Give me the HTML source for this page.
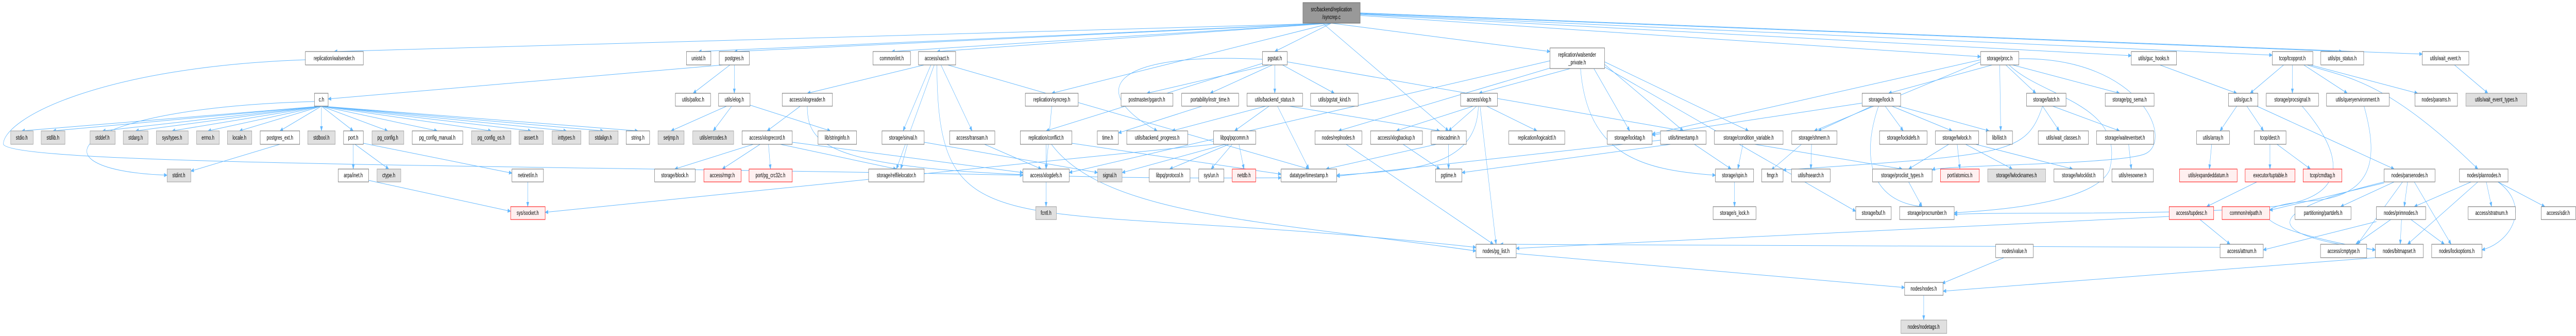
<!DOCTYPE html>
<html><head><meta charset="utf-8">
<style>
html,body{margin:0;padding:0;background:#fff;width:100%;height:100%;overflow:hidden;}
svg{display:block;width:100vw;height:100vh;}
text{font-family:"Liberation Sans",sans-serif;font-size:12px;fill:#000;text-anchor:middle;}
.w{fill:#fff;stroke:#666;stroke-width:1;}
.g{fill:#e0e0e0;stroke:#999;stroke-width:1;}
.r{fill:#fff0f0;stroke:#f00;stroke-width:1;}
.k{fill:#999;stroke:#666;stroke-width:1;}
.e line,.e path{stroke:#63b8ff;stroke-width:1;fill:none;marker-end:url(#a);}
</style></head>
<body>
<svg viewBox="0 0 7693 652" preserveAspectRatio="none" xmlns="http://www.w3.org/2000/svg" overflow="hidden">
<defs><marker id="a" markerUnits="userSpaceOnUse" markerWidth="10" markerHeight="8" refX="9" refY="4" orient="auto"><path d="M0,0 L10,4 L0,8 z" fill="#63b8ff"/></marker></defs>
<g class="e">
<line x1="3976" y1="45" x2="998" y2="100"/><line x1="3976" y1="45" x2="2086" y2="100"/><line x1="3976" y1="45" x2="2193" y2="100"/>
<line x1="3976" y1="45" x2="2663" y2="100"/><line x1="3976" y1="45" x2="2798" y2="100"/><line x1="3976" y1="45" x2="3807" y2="100"/>
<line x1="3976" y1="45" x2="4629" y2="100"/><line x1="4062" y1="30" x2="5915" y2="110"/><line x1="4062" y1="28" x2="6365" y2="108"/>
<line x1="4062" y1="27" x2="6786" y2="107"/><line x1="4062" y1="26" x2="6995" y2="100"/><line x1="4062" y1="25" x2="7234" y2="105"/>
<line x1="3976" y1="45" x2="3141" y2="181"/><line x1="3950" y1="45" x2="4326" y2="254"/>
<path d="M912,116 C300,130 10,230 10,280 C40,320 1500,320 3055,340"/>
<line x1="960" y1="206" x2="65" y2="254"/><line x1="960" y1="206" x2="158" y2="254"/><line x1="960" y1="206" x2="306" y2="254"/>
<line x1="960" y1="206" x2="405" y2="254"/><line x1="960" y1="206" x2="514" y2="254"/><line x1="960" y1="206" x2="621" y2="254"/>
<line x1="960" y1="206" x2="715" y2="254"/><line x1="960" y1="206" x2="836" y2="254"/><line x1="960" y1="206" x2="960" y2="254"/>
<line x1="960" y1="206" x2="1055" y2="254"/><line x1="960" y1="206" x2="1158" y2="254"/><line x1="960" y1="206" x2="1306" y2="254"/>
<line x1="960" y1="206" x2="1467" y2="254"/><line x1="960" y1="206" x2="1586" y2="254"/><line x1="960" y1="206" x2="1692" y2="254"/>
<line x1="960" y1="206" x2="1802" y2="254"/><line x1="960" y1="206" x2="1905" y2="254"/>
<path d="M939,197 C200,210 80,330 499,340"/>
<line x1="836" y1="280" x2="570" y2="332"/>
<line x1="1055" y1="280" x2="1055" y2="328"/><line x1="1060" y1="280" x2="1161" y2="328"/><line x1="1085" y1="278" x2="1529" y2="336"/>
<line x1="1101" y1="350" x2="1525" y2="410"/><line x1="1576" y1="353" x2="1576" y2="401"/>
<line x1="2160" y1="126" x2="980" y2="192"/><line x1="2180" y1="126" x2="2070" y2="181"/><line x1="2193" y1="126" x2="2193" y2="181"/>
<line x1="2170" y1="206" x2="2004" y2="254"/><line x1="2185" y1="206" x2="2130" y2="254"/><line x1="2240" y1="204" x2="2480" y2="254"/>
<line x1="2390" y1="206" x2="2291" y2="254"/><path d="M2411,206 C2411,300 2500,350 3826,345"/>
<line x1="2250" y1="280" x2="2015" y2="328"/><line x1="2270" y1="280" x2="2157" y2="328"/><line x1="2295" y1="280" x2="2301" y2="328"/>
<line x1="2330" y1="280" x2="2677" y2="328"/><line x1="2366" y1="276" x2="3055" y2="335"/>
<line x1="2760" y1="126" x2="2411" y2="181"/><line x1="2780" y1="126" x2="2697" y2="254"/><line x1="2810" y1="126" x2="2903" y2="254"/>
<line x1="2790" y1="126" x2="2677" y2="328"/><path d="M2798,126 C2800,500 3000,380 4408,480"/><line x1="2830" y1="126" x2="3909" y2="328"/>
<line x1="2710" y1="280" x2="2690" y2="328"/><line x1="2760" y1="276" x2="3278" y2="335"/>
<line x1="2940" y1="280" x2="3110" y2="328"/><line x1="3141" y1="206" x2="3124" y2="328"/>
<line x1="3124" y1="280" x2="3124" y2="328"/><line x1="3201" y1="278" x2="3826" y2="338"/><path d="M3140,280 C3300,420 3800,430 4408,487"/>
<line x1="3124" y1="353" x2="3124" y2="401"/>
<line x1="3790" y1="126" x2="3425" y2="181"/><line x1="3800" y1="126" x2="3614" y2="181"/><line x1="3807" y1="126" x2="3807" y2="181"/>
<line x1="3830" y1="126" x2="3985" y2="181"/><line x1="3775" y1="122" x2="3124" y2="254"/><path d="M3770,115 C3300,100 3250,180 3456,254"/>
<line x1="3844" y1="120" x2="5027" y2="254"/>
<line x1="3590" y1="206" x2="3340" y2="258"/>
<line x1="3780" y1="206" x2="3500" y2="254"/><line x1="3790" y1="206" x2="3687" y2="254"/><line x1="3815" y1="206" x2="3909" y2="328"/>
<line x1="3850" y1="206" x2="4300" y2="254"/>
<line x1="3670" y1="280" x2="3493" y2="328"/><line x1="3680" y1="280" x2="3617" y2="328"/><line x1="3700" y1="280" x2="3715" y2="328"/>
<line x1="3660" y1="280" x2="3351" y2="335"/><line x1="3624" y1="280" x2="1628" y2="412"/>
<line x1="4690" y1="133" x2="4417" y2="181"/><line x1="4640" y1="130" x2="3997" y2="254"/><line x1="4760" y1="133" x2="4867" y2="254"/>
<line x1="4792" y1="125" x2="5027" y2="254"/><line x1="4792" y1="120" x2="5222" y2="254"/><path d="M4720,133 C4740,300 4900,330 5123,340"/>
<line x1="4629" y1="118" x2="3193" y2="335"/><line x1="4792" y1="130" x2="5542" y2="410"/>
<line x1="4400" y1="206" x2="4170" y2="254"/><line x1="4410" y1="206" x2="4326" y2="254"/><line x1="4440" y1="206" x2="4590" y2="254"/>
<line x1="4420" y1="206" x2="4468" y2="474"/><path d="M4415,206 C4410,330 4200,330 3992,340"/>
<line x1="4190" y1="280" x2="4300" y2="328"/><line x1="4326" y1="280" x2="4326" y2="328"/><line x1="4290" y1="280" x2="3960" y2="328"/>
<line x1="4020" y1="280" x2="4460" y2="474"/>
<line x1="4959" y1="272" x2="3992" y2="342"/><line x1="4990" y1="280" x2="4366" y2="335"/><line x1="5060" y1="280" x2="5170" y2="328"/>
<line x1="5240" y1="280" x2="5681" y2="328"/><line x1="5205" y1="280" x2="5190" y2="328"/>
<line x1="5180" y1="353" x2="5180" y2="401"/>
<line x1="5950" y1="126" x2="5640" y2="181"/><line x1="5972" y1="126" x2="5975" y2="254"/><line x1="5990" y1="126" x2="6080" y2="181"/>
<line x1="6010" y1="126" x2="6330" y2="181"/><path d="M6029,114 C6400,110 6500,280 6400,300 C6300,320 5800,320 5770,330"/>
<path d="M6000,126 C6100,190 6350,200 6300,330 C6250,400 5900,410 5836,413"/>
<line x1="5915" y1="116" x2="4934" y2="260"/><line x1="5915" y1="120" x2="5418" y2="254"/>
<line x1="5590" y1="206" x2="5430" y2="254"/><line x1="5630" y1="206" x2="5684" y2="254"/><line x1="5650" y1="206" x2="5830" y2="254"/>
<line x1="5670" y1="206" x2="5940" y2="254"/><path d="M5610,206 C5560,300 5580,390 5740,401"/><line x1="5561" y1="200" x2="4934" y2="262"/>
<line x1="5410" y1="280" x2="5408" y2="328"/><line x1="5380" y1="280" x2="5290" y2="330"/>
<line x1="5820" y1="280" x2="5700" y2="328"/><line x1="5845" y1="280" x2="5853" y2="328"/><line x1="5870" y1="280" x2="6010" y2="328"/>
<line x1="5900" y1="280" x2="6190" y2="328"/>
<line x1="5700" y1="353" x2="5740" y2="401"/>
<line x1="6100" y1="206" x2="6150" y2="254"/><line x1="6130" y1="206" x2="6330" y2="254"/><path d="M6100,206 C6050,300 6000,300 5325,330"/>
<line x1="6357" y1="280" x2="6365" y2="328"/>
<line x1="6450" y1="126" x2="6680" y2="181"/>
<line x1="6820" y1="126" x2="6720" y2="181"/><line x1="6846" y1="126" x2="6846" y2="181"/><line x1="6880" y1="126" x2="7010" y2="181"/>
<line x1="6900" y1="126" x2="7220" y2="181"/><path d="M6890,126 C7000,150 7120,150 7400,328"/>
<line x1="6680" y1="206" x2="6630" y2="254"/><line x1="6710" y1="206" x2="6760" y2="254"/><line x1="6740" y1="206" x2="7150" y2="328"/>
<line x1="6605" y1="280" x2="6598" y2="328"/>
<line x1="6779" y1="280" x2="6779" y2="328"/><line x1="6800" y1="280" x2="6900" y2="328"/>
<line x1="6740" y1="353" x2="6590" y2="401"/><line x1="6570" y1="426" x2="6660" y2="474"/>
<line x1="7190" y1="353" x2="7180" y2="401"/><line x1="7150" y1="353" x2="6990" y2="401"/><line x1="7120" y1="355" x2="6778" y2="408"/>
<line x1="7210" y1="353" x2="7320" y2="474"/><line x1="7175" y1="353" x2="7040" y2="474"/><path d="M7120,353 C6700,420 6800,460 7094,485"/>
<line x1="7380" y1="353" x2="7210" y2="401"/><line x1="7425" y1="353" x2="7441" y2="401"/><line x1="7460" y1="353" x2="7600" y2="401"/>
<line x1="7400" y1="353" x2="7190" y2="474"/><path d="M7460,353 C7560,400 7500,470 7412,485"/>
<line x1="7140" y1="426" x2="7035" y2="474"/><line x1="7172" y1="426" x2="7168" y2="474"/><line x1="7200" y1="426" x2="7300" y2="474"/>
<line x1="7097" y1="430" x2="6759" y2="485"/>
<line x1="7330" y1="126" x2="7430" y2="181"/>
<path d="M6875,206 C7000,300 7020,380 6800,400 C6500,420 6000,410 5836,416"/>
<path d="M7060,206 C7100,300 7100,380 6900,390 C6700,400 6700,440 7094,485"/>
<line x1="5985" y1="500" x2="5800" y2="550"/><line x1="5745" y1="573" x2="5745" y2="621"/>
<line x1="4528" y1="492" x2="5688" y2="558"/><line x1="7094" y1="500" x2="5803" y2="565"/>
<line x1="6478" y1="420" x2="4528" y2="482"/><line x1="6630" y1="480" x2="4480" y2="474"/>
</g>
<rect class="k" x="3891" y="5" width="171" height="40"/><text x="3976" y="22">src/backend/replication</text><text x="3976" y="37">/syncrep.c</text>
<g>
<rect class="w" x="912" y="100" width="173" height="26"/><text x="998" y="117">replication/walsender.h</text>
<rect class="w" x="2050" y="100" width="73" height="26"/><text x="2086" y="117">unistd.h</text>
<rect class="w" x="2148" y="100" width="90" height="26"/><text x="2193" y="117">postgres.h</text>
<rect class="w" x="2607" y="100" width="112" height="26"/><text x="2663" y="117">common/int.h</text>
<rect class="w" x="2743" y="100" width="111" height="26"/><text x="2798" y="117">access/xact.h</text>
<rect class="w" x="3770" y="100" width="74" height="26"/><text x="3807" y="117">pgstat.h</text>
<rect class="w" x="4629" y="93" width="163" height="40"/><text x="4710" y="110">replication/walsender</text><text x="4710" y="125">_private.h</text>
<rect class="w" x="5915" y="100" width="114" height="26"/><text x="5972" y="117">storage/proc.h</text>
<rect class="w" x="6365" y="100" width="135" height="26"/><text x="6432" y="117">utils/guc_hooks.h</text>
<rect class="w" x="6786" y="100" width="121" height="26"/><text x="6846" y="117">tcop/tcopprot.h</text>
<rect class="w" x="6931" y="100" width="128" height="26"/><text x="6995" y="117">utils/ps_status.h</text>
<rect class="w" x="7234" y="100" width="139" height="26"/><text x="7303" y="117">utils/wait_event.h</text>
</g>
<g>
<rect class="w" x="939" y="181" width="41" height="25"/><text x="960" y="197">c.h</text>
<rect class="w" x="2017" y="181" width="105" height="25"/><text x="2070" y="197">utils/palloc.h</text>
<rect class="w" x="2146" y="181" width="94" height="25"/><text x="2193" y="197">utils/elog.h</text>
<rect class="w" x="2336" y="181" width="150" height="25"/><text x="2411" y="197">access/xlogreader.h</text>
<rect class="w" x="3062" y="181" width="158" height="25"/><text x="3141" y="197">replication/syncrep.h</text>
<rect class="w" x="3348" y="181" width="155" height="25"/><text x="3425" y="197">postmaster/pgarch.h</text>
<rect class="w" x="3529" y="181" width="170" height="25"/><text x="3614" y="197">portability/instr_time.h</text>
<rect class="w" x="3724" y="181" width="166" height="25"/><text x="3807" y="197">utils/backend_status.h</text>
<rect class="w" x="3914" y="181" width="142" height="25"/><text x="3985" y="197">utils/pgstat_kind.h</text>
<rect class="w" x="4362" y="181" width="110" height="25"/><text x="4417" y="197">access/xlog.h</text>
<rect class="w" x="5561" y="181" width="115" height="25"/><text x="5618" y="197">storage/lock.h</text>
<rect class="w" x="6052" y="181" width="118" height="25"/><text x="6111" y="197">storage/latch.h</text>
<rect class="w" x="6287" y="181" width="146" height="25"/><text x="6360" y="197">storage/pg_sema.h</text>
<rect class="w" x="6655" y="181" width="88" height="25"/><text x="6699" y="197">utils/guc.h</text>
<rect class="w" x="6768" y="181" width="156" height="25"/><text x="6846" y="197">storage/procsignal.h</text>
<rect class="w" x="6948" y="181" width="187" height="25"/><text x="7041" y="197">utils/queryenvironment.h</text>
<rect class="w" x="7212" y="181" width="127" height="25"/><text x="7275" y="197">nodes/params.h</text>
<rect class="g" x="7364" y="181" width="182" height="25"/><text x="7455" y="197">utils/wait_event_types.h</text>
</g>
<g>
<rect class="g" x="32" y="254" width="67" height="26"/><text x="65" y="271">stdio.h</text>
<rect class="g" x="123" y="254" width="71" height="26"/><text x="158" y="271">stdlib.h</text>
<rect class="g" x="269" y="254" width="75" height="26"/><text x="306" y="271">stddef.h</text>
<rect class="g" x="368" y="254" width="74" height="26"/><text x="405" y="271">stdarg.h</text>
<rect class="g" x="467" y="254" width="95" height="26"/><text x="514" y="271">sys/types.h</text>
<rect class="g" x="587" y="254" width="68" height="26"/><text x="621" y="271">errno.h</text>
<rect class="g" x="679" y="254" width="73" height="26"/><text x="715" y="271">locale.h</text>
<rect class="w" x="777" y="254" width="118" height="26"/><text x="836" y="271">postgres_ext.h</text>
<rect class="g" x="919" y="254" width="82" height="26"/><text x="960" y="271">stdbool.h</text>
<rect class="w" x="1026" y="254" width="59" height="26"/><text x="1055" y="271">port.h</text>
<rect class="g" x="1111" y="254" width="95" height="26"/><text x="1158" y="271">pg_config.h</text>
<rect class="w" x="1231" y="254" width="151" height="26"/><text x="1306" y="271">pg_config_manual.h</text>
<rect class="g" x="1408" y="254" width="118" height="26"/><text x="1467" y="271">pg_config_os.h</text>
<rect class="g" x="1550" y="254" width="73" height="26"/><text x="1586" y="271">assert.h</text>
<rect class="g" x="1649" y="254" width="86" height="26"/><text x="1692" y="271">inttypes.h</text>
<rect class="g" x="1759" y="254" width="87" height="26"/><text x="1802" y="271">stdalign.h</text>
<rect class="w" x="1870" y="254" width="70" height="26"/><text x="1905" y="271">string.h</text>
<rect class="g" x="1965" y="254" width="78" height="26"/><text x="2004" y="271">setjmp.h</text>
<rect class="g" x="2069" y="254" width="122" height="26"/><text x="2130" y="271">utils/errcodes.h</text>
<rect class="w" x="2216" y="254" width="150" height="26"/><text x="2291" y="271">access/xlogrecord.h</text>
<rect class="w" x="2443" y="254" width="115" height="26"/><text x="2500" y="271">lib/stringinfo.h</text>
<rect class="w" x="2634" y="254" width="126" height="26"/><text x="2697" y="271">storage/sinval.h</text>
<rect class="w" x="2836" y="254" width="135" height="26"/><text x="2903" y="271">access/transam.h</text>
<rect class="w" x="3047" y="254" width="154" height="26"/><text x="3124" y="271">replication/conflict.h</text>
<rect class="w" x="3277" y="254" width="63" height="26"/><text x="3308" y="271">time.h</text>
<rect class="w" x="3365" y="254" width="182" height="26"/><text x="3456" y="271">utils/backend_progress.h</text>
<rect class="w" x="3624" y="254" width="126" height="26"/><text x="3687" y="271">libpq/pqcomm.h</text>
<rect class="w" x="3927" y="254" width="140" height="26"/><text x="3997" y="271">nodes/replnodes.h</text>
<rect class="w" x="4093" y="254" width="155" height="26"/><text x="4170" y="271">access/xlogbackup.h</text>
<rect class="w" x="4274" y="254" width="105" height="26"/><text x="4326" y="271">miscadmin.h</text>
<rect class="w" x="4506" y="254" width="167" height="26"/><text x="4590" y="271">replication/logicalctl.h</text>
<rect class="w" x="4800" y="254" width="134" height="26"/><text x="4867" y="271">storage/locktag.h</text>
<rect class="w" x="4959" y="254" width="136" height="26"/><text x="5027" y="271">utils/timestamp.h</text>
<rect class="w" x="5120" y="254" width="205" height="26"/><text x="5222" y="271">storage/condition_variable.h</text>
<rect class="w" x="5351" y="254" width="135" height="26"/><text x="5418" y="271">storage/shmem.h</text>
<rect class="w" x="5613" y="254" width="142" height="26"/><text x="5684" y="271">storage/lockdefs.h</text>
<rect class="w" x="5780" y="254" width="129" height="26"/><text x="5844" y="271">storage/lwlock.h</text>
<rect class="w" x="5933" y="254" width="77" height="26"/><text x="5971" y="271">lib/ilist.h</text>
<rect class="w" x="6087" y="254" width="150" height="26"/><text x="6162" y="271">utils/wait_classes.h</text>
<rect class="w" x="6261" y="254" width="171" height="26"/><text x="6346" y="271">storage/waiteventset.h</text>
<rect class="w" x="6560" y="254" width="98" height="26"/><text x="6609" y="271">utils/array.h</text>
<rect class="w" x="6732" y="254" width="95" height="26"/><text x="6779" y="271">tcop/dest.h</text>
</g>
<g>
<rect class="g" x="499" y="328" width="71" height="25"/><text x="534" y="344">stdint.h</text>
<rect class="w" x="1010" y="328" width="91" height="25"/><text x="1055" y="344">arpa/inet.h</text>
<rect class="g" x="1126" y="328" width="71" height="25"/><text x="1161" y="344">ctype.h</text>
<rect class="w" x="1529" y="328" width="94" height="25"/><text x="1576" y="344">netinet/in.h</text>
<rect class="w" x="1955" y="328" width="121" height="25"/><text x="2015" y="344">storage/block.h</text>
<rect class="r" x="2102" y="328" width="111" height="25"/><text x="2157" y="344">access/rmgr.h</text>
<rect class="r" x="2237" y="328" width="129" height="25"/><text x="2301" y="344">port/pg_crc32c.h</text>
<rect class="w" x="2594" y="328" width="166" height="25"/><text x="2677" y="344">storage/relfilelocator.h</text>
<rect class="w" x="3055" y="328" width="138" height="25"/><text x="3124" y="344">access/xlogdefs.h</text>
<rect class="g" x="3278" y="328" width="73" height="25"/><text x="3314" y="344">signal.h</text>
<rect class="w" x="3432" y="328" width="122" height="25"/><text x="3493" y="344">libpq/protocol.h</text>
<rect class="w" x="3580" y="328" width="75" height="25"/><text x="3617" y="344">sys/un.h</text>
<rect class="r" x="3680" y="328" width="70" height="25"/><text x="3715" y="344">netdb.h</text>
<rect class="w" x="3826" y="328" width="166" height="25"/><text x="3909" y="344">datatype/timestamp.h</text>
<rect class="w" x="4287" y="328" width="79" height="25"/><text x="4326" y="344">pgtime.h</text>
<rect class="w" x="5123" y="328" width="114" height="25"/><text x="5180" y="344">storage/spin.h</text>
<rect class="w" x="5261" y="328" width="64" height="25"/><text x="5293" y="344">fmgr.h</text>
<rect class="w" x="5350" y="328" width="116" height="25"/><text x="5408" y="344">utils/hsearch.h</text>
<rect class="w" x="5592" y="328" width="178" height="25"/><text x="5681" y="344">storage/proclist_types.h</text>
<rect class="r" x="5795" y="328" width="116" height="25"/><text x="5853" y="344">port/atomics.h</text>
<rect class="g" x="5936" y="328" width="173" height="25"/><text x="6022" y="344">storage/lwlocknames.h</text>
<rect class="w" x="6134" y="328" width="148" height="25"/><text x="6208" y="344">storage/lwlocklist.h</text>
<rect class="w" x="6307" y="328" width="124" height="25"/><text x="6369" y="344">utils/resowner.h</text>
<rect class="r" x="6509" y="328" width="172" height="25"/><text x="6595" y="344">utils/expandeddatum.h</text>
<rect class="r" x="6705" y="328" width="149" height="25"/><text x="6780" y="344">executor/tuptable.h</text>
<rect class="r" x="6878" y="328" width="116" height="25"/><text x="6936" y="344">tcop/cmdtag.h</text>
<rect class="w" x="7120" y="328" width="152" height="25"/><text x="7196" y="344">nodes/parsenodes.h</text>
<rect class="w" x="7345" y="328" width="145" height="25"/><text x="7418" y="344">nodes/plannodes.h</text>
</g>
<g>
<rect class="r" x="1525" y="401" width="103" height="25"/><text x="1576" y="417">sys/socket.h</text>
<rect class="g" x="3093" y="401" width="62" height="25"/><text x="3124" y="417">fcntl.h</text>
<rect class="w" x="5116" y="401" width="128" height="25"/><text x="5180" y="417">storage/s_lock.h</text>
<rect class="w" x="5542" y="401" width="106" height="25"/><text x="5595" y="417">storage/buf.h</text>
<rect class="w" x="5673" y="401" width="163" height="25"/><text x="5755" y="417">storage/procnumber.h</text>
<rect class="r" x="6478" y="401" width="133" height="25"/><text x="6545" y="417">access/tupdesc.h</text>
<rect class="r" x="6636" y="401" width="142" height="25"/><text x="6707" y="417">common/relpath.h</text>
<rect class="w" x="6854" y="401" width="167" height="25"/><text x="6938" y="417">partitioning/partdefs.h</text>
<rect class="w" x="7097" y="401" width="147" height="25"/><text x="7170" y="417">nodes/primnodes.h</text>
<rect class="w" x="7371" y="401" width="141" height="25"/><text x="7441" y="417">access/stratnum.h</text>
<rect class="w" x="7589" y="401" width="103" height="25"/><text x="7640" y="417">access/sdir.h</text>
</g>
<g>
<rect class="w" x="4408" y="474" width="120" height="26"/><text x="4468" y="491">nodes/pg_list.h</text>
<rect class="w" x="5960" y="474" width="112" height="26"/><text x="6016" y="491">nodes/value.h</text>
<rect class="w" x="6630" y="474" width="129" height="26"/><text x="6695" y="491">access/attnum.h</text>
<rect class="w" x="6930" y="474" width="138" height="26"/><text x="6999" y="491">access/cmptype.h</text>
<rect class="w" x="7094" y="474" width="143" height="26"/><text x="7165" y="491">nodes/bitmapset.h</text>
<rect class="w" x="7262" y="474" width="150" height="26"/><text x="7337" y="491">nodes/lockoptions.h</text>
<rect class="w" x="5688" y="548" width="115" height="25"/><text x="5745" y="564">nodes/nodes.h</text>
<rect class="g" x="5677" y="621" width="137" height="26"/><text x="5745" y="638">nodes/nodetags.h</text>
</g>
</svg>
</body></html>
